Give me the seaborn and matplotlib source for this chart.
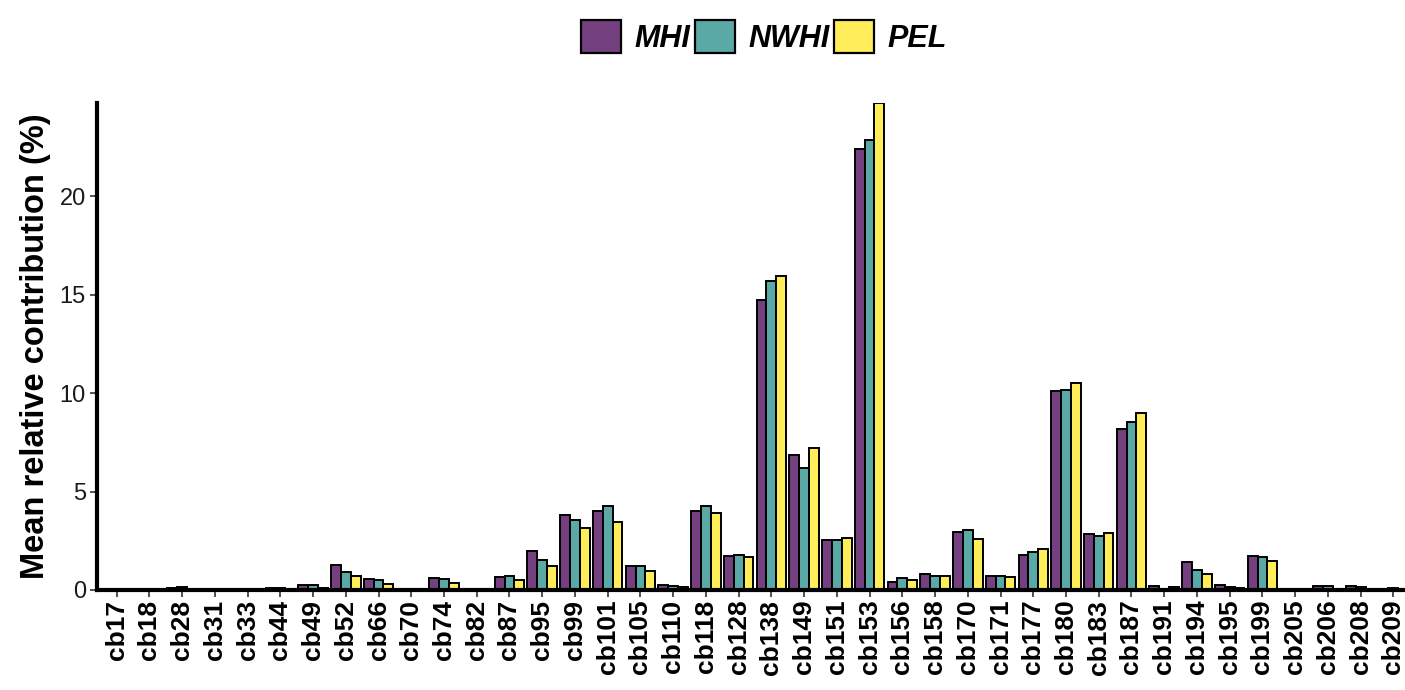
import pandas as pd
import numpy as np
import matplotlib
matplotlib.use("Agg")
import matplotlib.pyplot as plt
import seaborn as sns
from matplotlib.patches import Patch

congeners = ["cb17", "cb18", "cb28", "cb31", "cb33", "cb44", "cb49", "cb52", "cb66", "cb70",
             "cb74", "cb82", "cb87", "cb95", "cb99", "cb101", "cb105", "cb110", "cb118", "cb128",
             "cb138", "cb149", "cb151", "cb153", "cb156", "cb158", "cb170", "cb171", "cb177", "cb180",
             "cb183", "cb187", "cb191", "cb194", "cb195", "cb199", "cb205", "cb206", "cb208", "cb209"]

mhi = [0.01, 0.01, 0.10, 0.01, 0.01, 0.10, 0.27, 1.25, 0.55, 0.03,
       0.60, 0.07, 0.68, 2.00, 3.80, 4.03, 1.20, 0.23, 4.03, 1.72,
       14.72, 6.84, 2.54, 22.39, 0.42, 0.81, 2.95, 0.70, 1.80, 10.11,
       2.87, 8.20, 0.18, 1.40, 0.25, 1.71, 0.01, 0.22, 0.18, 0.06]

nwhi = [0.01, 0.01, 0.15, 0.01, 0.01, 0.08, 0.23, 0.90, 0.52, 0.02,
        0.55, 0.03, 0.72, 1.53, 3.58, 4.27, 1.20, 0.20, 4.25, 1.77,
        15.72, 6.21, 2.54, 22.87, 0.59, 0.73, 3.05, 0.70, 1.93, 10.18,
        2.75, 8.54, 0.05, 1.02, 0.15, 1.66, 0.01, 0.18, 0.15, 0.10]

pel = [0.01, 0.01, 0.05, 0.01, 0.01, 0.02, 0.10, 0.70, 0.30, 0.01,
       0.35, 0.02, 0.50, 1.22, 3.13, 3.45, 0.95, 0.13, 3.90, 1.70,
       15.95, 7.23, 2.63, 24.75, 0.51, 0.73, 2.61, 0.65, 2.09, 10.52,
       2.92, 9.00, 0.17, 0.83, 0.10, 1.48, 0.01, 0.05, 0.05, 0.05]

regions = ["MHI", "NWHI", "PEL"]
colors = ["#75407F", "#5AA9A6", "#FFEE5A"]

# long format for seaborn
df = pd.DataFrame({
    "congener": congeners * 3,
    "region": [r for r in regions for _ in congeners],
    "value": mhi + nwhi + pel,
})

sns.set_style("white")
plt.rcParams["font.family"] = ["Liberation Sans", "DejaVu Sans"]

fig = plt.figure(figsize=(14.05, 6.9), dpi=100)
ax = fig.add_axes([97 / 1405, 1 - 590 / 690, 1316 / 1405, 487 / 690])

sns.barplot(data=df, x="congener", y="value", hue="region", order=congeners,
            hue_order=regions, palette=colors, edgecolor="black", linewidth=1.4,
            width=0.9, gap=0, saturation=1, ax=ax, legend=False)

ax.set_xlim(-0.6, len(congeners) - 0.4)
ax.set_ylim(0, max(pel))
ax.set_yticks([0, 5, 10, 15, 20])

for side in ["top", "right"]:
    ax.spines[side].set_visible(False)
for side in ["left", "bottom"]:
    ax.spines[side].set_linewidth(3)
    ax.spines[side].set_color("black")

ax.tick_params(axis="y", labelsize=17, length=5, width=1.2, color="#333333",
               labelcolor="#1a1a1a", left=True, pad=3)
ax.tick_params(axis="x", labelsize=19, length=5, width=1.2, color="#333333",
               labelcolor="black", bottom=True, labelrotation=90, pad=2)
for lbl in ax.get_xticklabels():
    lbl.set_fontweight("bold")

ax.set_xlabel("")
ax.set_ylabel("Mean relative contribution (%)", fontsize=23.5, fontweight="bold",
              color="black", labelpad=6)

handles = [Patch(facecolor=c, edgecolor="black", linewidth=1.6) for c in colors]
leg = fig.legend(handles, regions, loc="center", bbox_to_anchor=(764 / 1405, 1 - 37 / 690),
                 ncol=3, frameon=False, handlelength=1.3, handleheight=1.3,
                 handletextpad=0.45, columnspacing=0.15,
                 prop={"size": 22, "weight": "bold", "style": "italic"})
for t in leg.get_texts():
    t.set_color("black")

fig.savefig("out.png", dpi=100)
